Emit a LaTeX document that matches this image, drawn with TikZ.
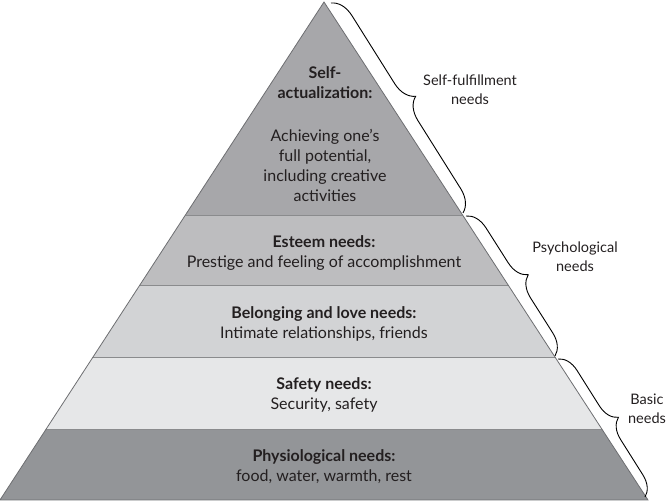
\documentclass[tikz,border=0pt]{standalone}
\usepackage{fontspec}
\setmainfont{Lato}
\usetikzlibrary{decorations.pathreplacing}
\definecolor{cself}{HTML}{A7A7AA}
\definecolor{cesteem}{HTML}{BDBDBF}
\definecolor{cbelong}{HTML}{D2D3D5}
\definecolor{csafety}{HTML}{E6E7E8}
\definecolor{cphys}{HTML}{939598}
\definecolor{cedge}{HTML}{6D6E71}
\definecolor{ctext}{HTML}{231F20}
\tikzset{
  lbl/.style={align=center, text=ctext, font=\fontsize{16}{20}\selectfont, inner sep=0pt},
  side/.style={align=center, text=ctext, font=\fontsize{14.5}{19}\selectfont, inner sep=0pt},
  bracedeco/.style={draw=black, line width=0.9pt, decorate, decoration={brace, amplitude=#1}},
  sep/.style={draw=cedge!80, line width=0.6pt}
}
\begin{document}
\begin{tikzpicture}[x=1pt,y=-1pt]
\useasboundingbox (0,0) rectangle (670,502);
\coordinate (apex) at (324,2);
\coordinate (bl) at (0,500);
\coordinate (br) at (648,500);
\begin{scope}
  \clip (apex) -- (br) -- (bl) -- cycle;
  \fill[cself] (0,0) rectangle (670,215);
  \fill[cesteem] (0,215) rectangle (670,285);
  \fill[cbelong] (0,285) rectangle (670,357);
  \fill[csafety] (0,357) rectangle (670,429);
  \fill[cphys] (0,429) rectangle (670,502);
  \draw[sep] (0,215) -- (670,215);
  \draw[sep] (0,285) -- (670,285);
  \draw[sep] (0,357) -- (670,357);
  \draw[sep] (0,429) -- (670,429);
\end{scope}
\draw[cedge, line width=0.8pt, line join=miter] (apex) -- (br) -- (bl) -- cycle;

\node[lbl] (sa) at (325,83) {\textbf{Self-}\\\textbf{actualization:}};
\node[lbl] (sad) at (325,165) {Achieving one’s\\full potential,\\including creative\\activities};
\node[lbl] (es) at (324,253) {\textbf{Esteem needs:}\\Prestige and feeling of accomplishment};
\node[lbl] (be) at (324,324) {\textbf{Belonging and love needs:}\\Intimate relationships, friends};
\node[lbl] (sf) at (324,395) {\textbf{Safety needs:}\\Security, safety};
\node[lbl] (ph) at (324,467) {\textbf{Physiological needs:}\\food, water, warmth, rest};

\coordinate (b1s) at (331,3);
\coordinate (b1e) at (463,213);
\coordinate (b2s) at (466,216);
\coordinate (b2e) at (555,356);
\coordinate (b3s) at (558,359);
\coordinate (b3e) at (645,497);
\draw[bracedeco=22pt] (b1s) -- (b1e);
\draw[bracedeco=21pt] (b2s) -- (b2e);
\draw[bracedeco=20pt] (b3s) -- (b3e);

\node[side] (t1) at (470,90) {Self-fulfillment\\needs};
\node[side] (t2) at (575,257) {Psychological\\needs};
\node[side] (t3) at (647,409) {Basic\\needs};
\end{tikzpicture}
\end{document}
